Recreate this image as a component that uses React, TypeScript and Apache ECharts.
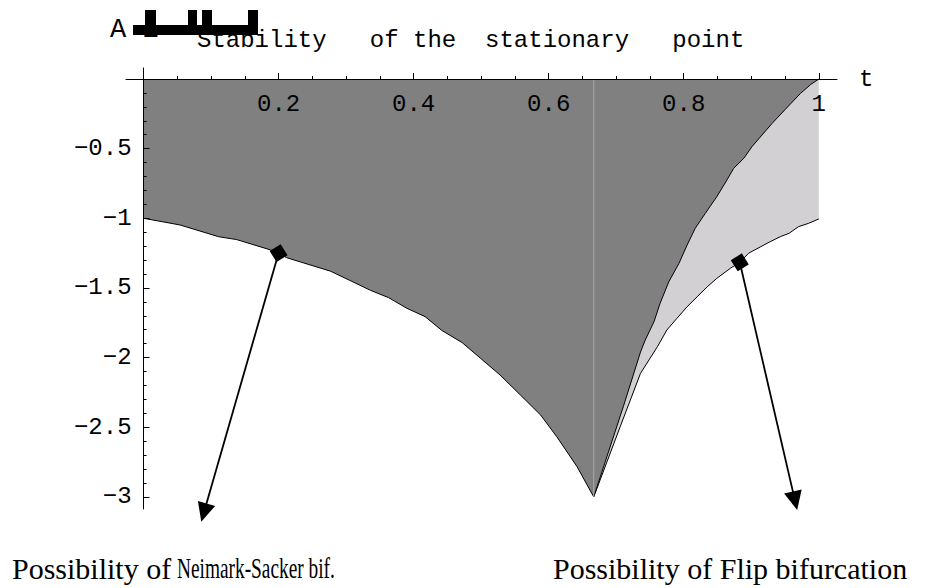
import React, { useEffect, useRef } from 'react';
import * as echarts from 'echarts';

// Axis ranges (axes extend slightly beyond the data, as in the original plot)
const X_MIN = -0.026;
const X_MAX = 1.027;
const Y_MIN = -3.087;
const Y_MAX = 0.079;

// Tick values
const X_MAJOR = [0.2, 0.4, 0.6, 0.8, 1.0];
const X_MINOR = [0.05, 0.1, 0.15, 0.25, 0.3, 0.35, 0.45, 0.5, 0.55, 0.65, 0.7, 0.75, 0.85, 0.9, 0.95];
const Y_MAJOR = [-0.5, -1, -1.5, -2, -2.5, -3];
const Y_MINOR = [-0.1, -0.2, -0.3, -0.4, -0.6, -0.7, -0.8, -0.9, -1.1, -1.2, -1.3, -1.4, -1.6, -1.7, -1.8, -1.9,
  -2.1, -2.2, -2.3, -2.4, -2.6, -2.7, -2.8, -2.9];

// Lower boundary of the dark region (Neimark-Sacker boundary), t from 0 to 2/3
const NS_CURVE: number[][] = [
  [0, -1.0], [0.054, -1.048], [0.111, -1.132], [0.138, -1.153], [0.188, -1.227], [0.2, -1.25], [0.212, -1.283],
  [0.277, -1.38], [0.306, -1.447], [0.336, -1.517], [0.363, -1.57], [0.39, -1.646], [0.417, -1.706],
  [0.442, -1.806], [0.472, -1.893], [0.499, -2.005], [0.528, -2.125], [0.558, -2.268], [0.588, -2.412],
  [0.612, -2.568], [0.642, -2.783], [0.6667, -3.0],
];

// Right boundary of the dark region, t from 2/3 to 1
const DARK_RIGHT: number[][] = [
  [0.6667, -3.0], [0.711, -2.345], [0.736, -1.96], [0.743, -1.874], [0.756, -1.742], [0.765, -1.61],
  [0.778, -1.455], [0.793, -1.323], [0.805, -1.192], [0.817, -1.072], [0.832, -0.964], [0.849, -0.845],
  [0.864, -0.725], [0.874, -0.641], [0.889, -0.569], [0.901, -0.486], [0.916, -0.402], [0.931, -0.318],
  [0.95, -0.22], [0.973, -0.103], [0.988, -0.04], [1.0, 0.0],
];

// Lower boundary of the light region (Flip boundary), t from 2/3 to 1
const FLIP_CURVE: number[][] = [
  [0.6667, -3.0], [0.706, -2.495], [0.736, -2.113], [0.761, -1.922], [0.775, -1.802], [0.79, -1.718],
  [0.805, -1.635], [0.82, -1.563], [0.835, -1.491], [0.849, -1.431], [0.869, -1.359], [0.883, -1.316],
  [0.896, -1.251], [0.914, -1.204], [0.928, -1.168], [0.943, -1.132], [0.956, -1.108], [0.97, -1.06],
  [0.985, -1.036], [1.0, -1.005],
];

// Thin seam line at t = 2/3
const SEAM: number[][] = [[0.6667, 0], [0.6667, -3.0]];

// Annotation markers and arrows: [fromT, fromA, toT, toA]
const MARKERS: number[][] = [[0.2, -1.25], [0.883, -1.316]];
const ARROWS: number[][] = [
  [0.2, -1.25, 0.0855, -3.178],
  [0.883, -1.316, 0.968, -3.094],
];

const TITLE = 'Stability   of the  stationary   point';
const LABEL_NS_A = 'Possibility of';
const LABEL_NS_B = 'Neimark-Sacker bif.';
const LABEL_FLIP = 'Possibility of Flip bifurcation';

const MONO = "'Liberation Mono', 'DejaVu Sans Mono', monospace";
const SERIF = "'Liberation Serif', 'DejaVu Serif', serif";

const GRID_L = 126;
const GRID_T = 68;
const GRID_W = 711;
const GRID_H = 441;

function fmt(v: number): string {
  const r = Math.round(v * 100) / 100;
  return (r < 0 ? '\u2212' : '') + String(Math.abs(r));
}

export default function App() {
  const ref = useRef<HTMLDivElement>(null);
  useEffect(() => {
    if (!ref.current) return;
    const chart = echarts.init(ref.current, null, { renderer: 'svg' });

    // Axes cross at the origin: shift them from the grid edges to the zero lines
    const xAxisOffset = -((Y_MAX - 0) / (Y_MAX - Y_MIN)) * GRID_H;
    const yAxisOffset = -((0 - X_MIN) / (X_MAX - X_MIN)) * GRID_W;

    const xBase: any = {
      type: 'value', min: X_MIN, max: X_MAX, position: 'top', offset: xAxisOffset, z: 10,
      splitLine: { show: false },
    };
    const yBase: any = {
      type: 'value', min: Y_MIN, max: Y_MAX, position: 'left', offset: yAxisOffset, z: 10,
      splitLine: { show: false },
    };

    const darkData = NS_CURVE.concat(DARK_RIGHT.slice(1));

    chart.setOption({
      animation: false,
      backgroundColor: '#ffffff',
      grid: { left: GRID_L, top: GRID_T, width: GRID_W, height: GRID_H, containLabel: false, outerBoundsMode: 'none' },
      xAxis: [
        {
          ...xBase,
          axisLine: { show: true, onZero: false, lineStyle: { color: '#000', width: 1 } },
          axisTick: { show: true, inside: false, length: 6, customValues: X_MAJOR, lineStyle: { color: '#000', width: 1 } },
          axisLabel: {
            show: true, inside: true, customValues: X_MAJOR, margin: 13, color: '#000', fontFamily: MONO, fontSize: 24,
            formatter: (v: number) => fmt(v),
          },
          name: 't', nameLocation: 'end', nameGap: 22,
          nameTextStyle: { color: '#000', fontFamily: MONO, fontSize: 24, verticalAlign: 'middle' },
        },
        {
          ...xBase,
          axisLine: { show: true, onZero: false, lineStyle: { color: '#000', width: 1, opacity: 0 } },
          axisTick: { show: true, inside: false, length: 3, customValues: X_MINOR, lineStyle: { color: '#000', width: 1 } },
          axisLabel: { show: false },
        },
      ],
      yAxis: [
        {
          ...yBase,
          axisLine: { show: true, onZero: false, lineStyle: { color: '#000', width: 1 } },
          axisTick: { show: true, inside: true, length: 6, customValues: Y_MAJOR, lineStyle: { color: '#000', width: 1 } },
          axisLabel: {
            show: true, customValues: Y_MAJOR, margin: 12, color: '#000', fontFamily: MONO, fontSize: 24,
            formatter: (v: number) => fmt(v),
          },
        },
        {
          ...yBase,
          axisLine: { show: true, onZero: false, lineStyle: { color: '#000', width: 1, opacity: 0 } },
          axisTick: { show: true, inside: true, length: 3, customValues: Y_MINOR, lineStyle: { color: '#000', width: 1 } },
          axisLabel: { show: false },
        },
      ],
      series: [
        {
          type: 'line', name: 'flip', data: FLIP_CURVE, showSymbol: false, symbol: 'none',
          lineStyle: { color: '#000', width: 1 },
          areaStyle: { color: '#d3d0d4', opacity: 1 },
          z: 2, silent: true,
        },
        {
          type: 'line', name: 'stable', data: darkData, showSymbol: false, symbol: 'none',
          lineStyle: { color: '#000', width: 1 },
          areaStyle: { color: '#808080', opacity: 1 },
          z: 3, silent: true,
        },
        {
          type: 'line', name: 'seam', data: SEAM, showSymbol: false, symbol: 'none',
          lineStyle: { color: '#a8a8a8', width: 1 },
          z: 4, silent: true,
        },
        {
          type: 'custom', name: 'arrows', data: ARROWS, clip: false, z: 5, silent: true,
          encode: { x: [0, 2], y: [1, 3] },
          renderItem: (params: any, api: any) => {
            const p0 = api.coord([api.value(0), api.value(1)]);
            const p1 = api.coord([api.value(2), api.value(3)]);
            const dx = p1[0] - p0[0];
            const dy = p1[1] - p0[1];
            const len = Math.hypot(dx, dy) || 1;
            const ux = dx / len;
            const uy = dy / len;
            const headLen = 19;
            const headHalf = 9;
            const bx = p1[0] - ux * headLen;
            const by = p1[1] - uy * headLen;
            const nx = -uy;
            const ny = ux;
            return {
              type: 'group',
              children: [
                {
                  type: 'line',
                  shape: { x1: p0[0], y1: p0[1], x2: bx + ux * 2, y2: by + uy * 2 },
                  style: { stroke: '#000', lineWidth: 1.8 },
                },
                {
                  type: 'polygon',
                  shape: { points: [[p1[0], p1[1]], [bx + nx * headHalf, by + ny * headHalf], [bx - nx * headHalf, by - ny * headHalf]] },
                  style: { fill: '#000' },
                },
              ],
            };
          },
        },
        {
          type: 'scatter', name: 'markers', data: MARKERS, symbol: 'rect', symbolSize: 13, symbolRotate: 32,
          itemStyle: { color: '#000', opacity: 1 }, z: 6, silent: true, clip: false,
        },
      ],
      graphic: [
        {
          type: 'text', x: 110, y: 30, z: 20,
          style: { text: 'A i', font: `27px ${MONO}`, fill: '#000', align: 'left', verticalAlign: 'middle' },
        },
        { type: 'rect', z: 21, shape: { x: 133, y: 25, width: 124, height: 10 }, style: { fill: '#000' } },
        { type: 'rect', z: 21, shape: { x: 145, y: 10, width: 11, height: 25 }, style: { fill: '#000' } },
        { type: 'rect', z: 21, shape: { x: 188, y: 10, width: 9, height: 25 }, style: { fill: '#000' } },
        { type: 'rect', z: 21, shape: { x: 202, y: 10, width: 10, height: 25 }, style: { fill: '#000' } },
        { type: 'rect', z: 21, shape: { x: 248, y: 10, width: 10, height: 25 }, style: { fill: '#000' } },
        {
          type: 'text', x: 197, y: 40, z: 19,
          style: { text: TITLE, font: `24px ${MONO}`, fill: '#000', align: 'left', verticalAlign: 'middle' },
        },
        {
          type: 'text', x: 12, y: 568, z: 20,
          style: { text: LABEL_NS_A, font: `30px ${SERIF}`, fill: '#000', align: 'left', verticalAlign: 'middle' },
        },
        {
          type: 'text', x: 177, y: 568, z: 20, scaleX: 0.645,
          style: { text: LABEL_NS_B, font: `30px ${SERIF}`, fill: '#000', align: 'left', verticalAlign: 'middle' },
        },
        {
          type: 'text', x: 553, y: 568, z: 20,
          style: { text: LABEL_FLIP, font: `30px ${SERIF}`, fill: '#000', align: 'left', verticalAlign: 'middle' },
        },
      ],
    });

    return () => chart.dispose();
  }, []);

  return (
    <div
      ref={ref}
      style={{ position: 'fixed', left: 0, top: 0, width: 936, height: 588, background: '#fff' }}
    />
  );
}
